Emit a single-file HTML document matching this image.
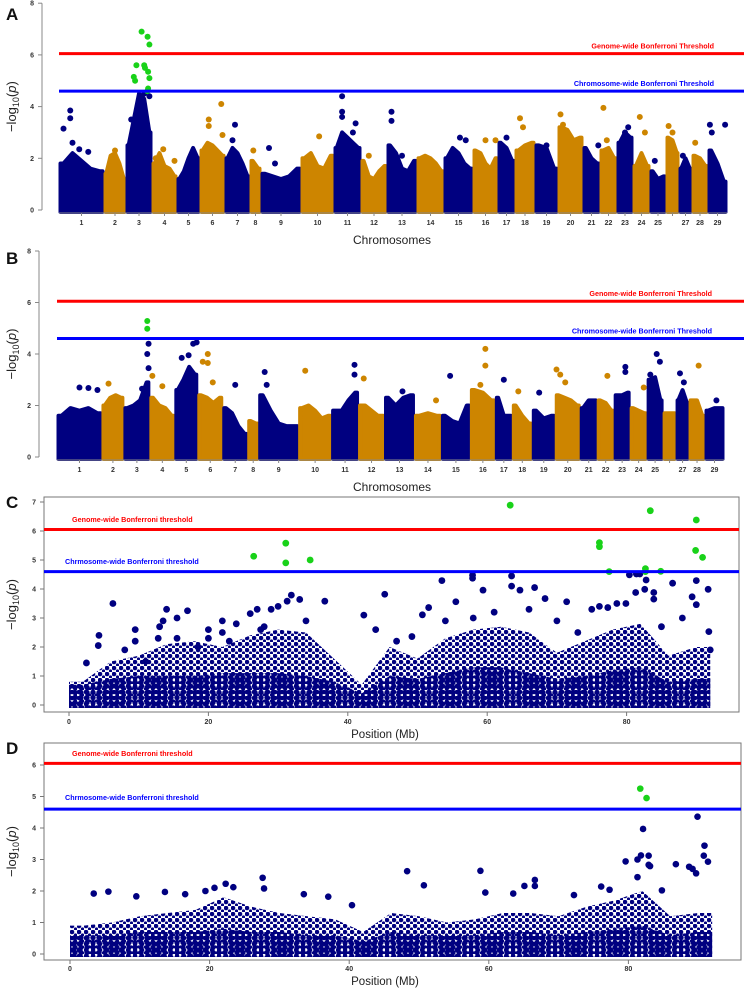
<!DOCTYPE html>
<html><head><meta charset="utf-8"><style>
html,body{margin:0;padding:0;background:#fff}
svg{display:block;font-family:"Liberation Sans",Arial,sans-serif}
</style></head><body>
<svg id="fig" width="744" height="992" viewBox="0 0 744 992" xmlns="http://www.w3.org/2000/svg">
<defs>
<pattern id="sparse" width="7" height="6" patternUnits="userSpaceOnUse"><circle cx="2" cy="2" r="2.3" fill="#000080"/><circle cx="5.5" cy="5" r="1.6" fill="#000080"/></pattern>
<pattern id="dense" width="6" height="5" patternUnits="userSpaceOnUse"><circle cx="3" cy="2.5" r="2.7" fill="#000080"/></pattern>
</defs>
<g id="root"></g>
</svg>
<script>
// ---------- DATA ----------
const chromNames = ["1","2","3","4","5","6","7","8","9","10","11","12","13","14","15","16","17","18","19","20","21","22","23","24","25","","27","28","29"];
const chromLen = [45,22,26,25,23,25,25,11,40,33,27,26,30,27,29,25,17,20,23,25,17,17,16,17,16,13,13,16,19];
const profileA = [[1.8,2.2,1.9,1.6,1.5],[1.4,2.1,2.2,1.8,1.2],[2.5,3.5,4.5,4.3,3.0],[1.8,2.2,1.7,1.6,1.3],[1.2,1.5,2.0,2.4,2.0],[2.3,2.6,2.5,2.3,2.1],[2.0,2.4,2.2,1.8,1.3],[1.9,1.6],[1.4,1.3,1.2,1.3,1.6],[2.0,2.2,1.7,1.6,2.1],[2.4,3.0,2.8,2.6,2.4],[1.9,1.3,1.2,1.5,1.7],[2.5,2.2,1.6,1.5,1.9],[2.0,2.1,2.0,1.8,1.5],[2.0,2.4,2.2,1.8,1.6],[2.3,2.2,1.8,1.6,2.0],[2.6,2.4,1.9],[2.3,2.5,2.6],[2.5,2.4,1.6],[3.2,3.1,2.7,2.8],[2.4,2.0,1.8],[2.3,2.4,2.0],[2.6,3.0,2.8],[1.7,2.2,1.7],[1.5,1.2,1.3],[2.8,2.7,2.2],[1.6,2.0,1.6],[2.1,2.0,1.7],[2.3,1.8,1.1]];
const peaksA = [[1,0.1,3.15],[1,0.25,3.85],[1,0.25,3.55],[1,0.3,2.6],[1,0.45,2.35],[1,0.65,2.25],[2,0.5,2.3],[3,0.2,3.5],[3,0.5,3.8],[3,0.7,4.5],[3,0.9,4.4],[4,0.15,2.0],[4,0.45,2.35],[4,0.9,1.9],[6,0.35,3.5],[6,0.35,3.25],[6,0.85,4.1],[6,0.9,2.9],[7,0.4,3.3],[7,0.3,2.7],[8,0.3,2.3],[9,0.2,2.4],[9,0.35,1.8],[10,0.55,2.85],[11,0.3,4.4],[11,0.3,3.8],[11,0.3,3.6],[11,0.8,3.35],[11,0.7,3.0],[12,0.3,2.1],[13,0.15,3.8],[13,0.15,3.45],[13,0.5,2.1],[15,0.55,2.8],[15,0.75,2.7],[16,0.5,2.7],[16,0.9,2.7],[17,0.5,2.8],[18,0.25,3.55],[18,0.4,3.2],[19,0.5,2.5],[20,0.1,3.7],[20,0.2,3.3],[21,0.9,2.5],[22,0.2,3.95],[22,0.4,2.7],[23,0.7,3.2],[23,0.5,3.0],[24,0.4,3.6],[24,0.7,3.0],[25,0.3,1.9],[26,0.2,3.25],[26,0.5,3.0],[27,0.3,2.1],[28,0.2,2.6],[29,0.1,3.3],[29,0.9,3.3],[29,0.2,3.0]];
const sigA = [[3,0.6,6.9],[3,0.83,6.7],[3,0.9,6.4],[3,0.4,5.6],[3,0.3,5.15],[3,0.35,5.0],[3,0.7,5.6],[3,0.73,5.5],[3,0.85,5.35],[3,0.9,5.1],[3,0.85,4.7],[3,0.82,4.6]];
const profileB = [[1.6,1.9,1.8,1.9,1.7],[2.0,2.3,2.4,2.3],[1.9,2.0,2.2,2.9],[2.3,2.0,1.9,1.6],[2.6,3.0,3.5,3.2],[2.4,2.3,2.1,2.3],[1.9,1.7,1.2,0.9],[1.4,1.3],[2.4,1.8,1.3,1.2,1.2],[1.9,2.0,1.8,1.5,1.6],[1.8,1.8,2.2,2.5],[2.0,1.6],[2.3,2.0,2.3,2.4],[1.6,1.7,1.6],[1.6,1.4,1.3,2.0],[2.6,2.5,2.2],[2.3,1.6,1.6],[2.0,1.6,1.3],[1.8,1.5,1.6],[2.4,2.3,2.2,2.0],[1.9,2.2,2.2],[2.2,2.1,1.8],[2.4,2.4,2.5],[1.9,1.8,1.7],[3.0,3.1,2.2],[1.7,1.7],[2.2,2.6,2.1],[2.2,2.2,1.6],[1.8,1.9,1.9]];
const peaksB = [[1,0.5,2.7],[1,0.7,2.68],[1,0.9,2.6],[2,0.3,2.85],[3,0.7,2.65],[3,0.95,4.4],[3,0.9,4.0],[3,0.95,3.45],[4,0.1,3.15],[4,0.5,2.75],[5,0.3,3.85],[5,0.6,3.95],[5,0.8,4.4],[5,0.95,4.45],[6,0.4,4.0],[6,0.4,3.65],[6,0.2,3.7],[6,0.6,2.9],[7,0.5,2.8],[9,0.15,3.3],[9,0.2,2.8],[10,0.2,3.35],[11,0.85,3.58],[11,0.85,3.2],[12,0.2,3.05],[13,0.6,2.55],[14,0.8,2.2],[15,0.3,3.15],[16,0.6,4.2],[16,0.6,3.55],[16,0.4,2.8],[17,0.5,3.0],[18,0.3,2.55],[19,0.3,2.5],[20,0.05,3.4],[20,0.2,3.2],[20,0.4,2.9],[22,0.6,3.15],[23,0.7,3.5],[23,0.7,3.3],[24,0.8,2.7],[25,0.6,4.0],[25,0.8,3.7],[25,0.2,3.2],[27,0.3,3.25],[27,0.6,2.9],[28,0.6,3.55],[29,0.6,2.2]];
const sigB = [[3,0.9,5.28],[3,0.9,4.98]];
// Panel C / D (single chromosome, Mb)
const binStartMb = [0,4,8,12,16,20,24,28,32,36,40,44,48,52,56,60,64,68,72,76,80,84,88];
const cloudTopC = [0.8,1.5,1.7,2.1,2.2,2.0,2.4,2.6,2.5,1.6,0.7,2.0,1.6,2.3,2.6,2.7,2.5,1.8,2.2,2.6,2.8,1.7,2.0];
const denseTopC = [0.7,0.9,1.0,1.0,1.0,1.1,1.1,1.1,1.0,0.8,0.4,1.0,0.9,1.1,1.3,1.3,1.1,0.9,1.0,1.2,1.3,0.8,0.9];
const cloudTopD = [0.9,1.0,1.2,1.3,1.4,1.8,1.5,1.3,1.2,1.1,0.7,1.3,1.2,1.0,1.1,1.3,1.3,1.2,1.5,1.7,2.0,1.2,1.3];
const denseTopD = [0.6,0.6,0.7,0.7,0.7,0.8,0.7,0.7,0.6,0.6,0.4,0.7,0.6,0.6,0.6,0.7,0.7,0.6,0.7,0.8,0.9,0.6,0.7];
const ptsC_mb = [6.3,4.3,4.2,9.5,9.5,13,13.5,14,15.5,17,15.5,12.8,20,20,22,22,23,26,27,28,29,27.5,30,31.3,31.9,33.1,36.7,45.3,53.5,57.9,57.9,63.5,63.5,59.4,64.7,66.8,68.3,80.4,81.4,81.9,82.8,82.6,81.3,83.9,83.9,86.6,90.0,91.7,89.4,90.0,91.8,71.4,76.1,78.6,79.9,77.3,51.6,55.5,50.7,42.3,49.2,18.5,24,34,44,47,54,58,61,66,70,73,75,85,88,92,2.5,11,8];
const ptsC_val = [3.5,2.4,2.05,2.6,2.2,2.7,2.9,3.3,3.0,3.25,2.3,2.3,2.6,2.3,2.9,2.5,2.2,3.15,3.3,2.7,3.3,2.6,3.4,3.58,3.79,3.64,3.58,3.82,4.29,4.48,4.37,4.45,4.1,3.96,3.96,4.05,3.67,4.49,4.52,4.52,4.31,3.99,3.88,3.88,3.65,4.2,4.29,3.99,3.73,3.46,2.53,3.56,3.4,3.5,3.5,3.36,3.36,3.56,3.11,3.1,2.36,2.0,2.8,2.9,2.6,2.2,2.9,3.0,3.2,3.3,2.9,2.5,3.3,2.7,3.0,1.9,1.45,1.5,1.9];
const sigC_mb = [26.5,31.1,31.1,34.6,63.3,83.4,76.1,76.1,77.5,82.7,82.7,84.9,90.0,89.9,90.9];
const sigC_val = [5.13,5.58,4.9,5.0,6.89,6.7,5.6,5.46,4.6,4.7,4.6,4.61,6.38,5.33,5.09];
const ptsD_mb = [3.4,5.5,9.5,13.6,16.5,19.4,20.7,22.3,23.4,27.6,27.8,33.5,37,40.4,48.3,50.7,58.8,59.5,63.5,65.1,66.6,66.6,72.2,76.1,77.3,79.6,81.3,81.8,82.1,81.3,83.1,82.9,82.9,86.8,88.7,89.9,90.9,90.8,91.4,89.7,89.2,84.8];
const ptsD_val = [1.92,1.98,1.83,1.97,1.9,2.0,2.1,2.23,2.12,2.42,2.08,1.9,1.82,1.55,2.63,2.18,2.64,1.95,1.92,2.16,2.35,2.16,1.87,2.14,2.04,2.94,3.0,3.13,3.97,2.44,2.79,3.12,2.83,2.85,2.77,4.36,3.44,3.12,2.93,2.56,2.7,2.02];
const sigD_mb = [81.7,82.6];
const sigD_val = [5.25,4.95];
const xTicksMb = [0,20,40,60,80];

// ---------- HELPERS ----------
const NS = "http://www.w3.org/2000/svg";
const root = document.getElementById('root');
const NAVY = "#000080", ORANGE = "#cd8500", GREEN = "#19d219";
function mk(tag, attrs, parent) {
  const e = document.createElementNS(NS, tag);
  for (const k in attrs) e.setAttribute(k, attrs[k]);
  (parent || root).appendChild(e);
  return e;
}
function txt(x, y, s, attrs, parent) {
  const t = mk('text', Object.assign({x: x, y: y}, attrs), parent);
  t.textContent = s;
  return t;
}
function ylabel(g, x, y) {
  const t = mk('text', {x: 0, y: 0, 'font-size': 13, fill: '#222', 'text-anchor': 'middle', transform: 'translate(' + x + ',' + y + ') rotate(-90)'}, g);
  
  
  const a = document.createElementNS(NS, 'tspan'); a.textContent = '\u2212log'; t.appendChild(a);
  const b = document.createElementNS(NS, 'tspan'); b.setAttribute('font-size', 9); b.setAttribute('dy', 3); b.textContent = '10'; t.appendChild(b);
  const c = document.createElementNS(NS, 'tspan'); c.setAttribute('dy', -3); c.textContent = '('; t.appendChild(c);
  const d = document.createElementNS(NS, 'tspan'); d.setAttribute('font-style', 'italic'); d.textContent = 'p'; t.appendChild(d);
  const e = document.createElementNS(NS, 'tspan'); e.textContent = ')'; t.appendChild(e);
}

function manhattan(cfg, profiles, peaks, sig) {
  const g = mk('g', {});
  
  
  const total = chromLen.reduce((a, b) => a + b, 0);
  const X = v => cfg.x0 + (cfg.x1 - cfg.x0) * v / total;
  const Y = v => cfg.y0 - v * cfg.unit;
  const starts = []; let acc = 0;
  chromLen.forEach(l => { starts.push(acc); acc += l; });
  profiles.forEach((p, i) => {
    const xa = X(starts[i]), xb = X(starts[i] + chromLen[i]);
    const col = i % 2 === 0 ? NAVY : ORANGE;
    let pts = [[xa + 1.5, cfg.y0 + 2], [xa + 1.5, Y(p[0])]];
    p.forEach((v, k) => pts.push([xa + (xb - xa) * (k + 0.5) / p.length, Y(v)]));
    pts.push([xb - 1.5, Y(p[p.length - 1])], [xb - 1.5, cfg.y0 + 2]);
    const poly = mk('polygon', {points: pts.map(q => q.join(',')).join(' '), fill: col, stroke: col, 'stroke-width': 4, 'stroke-linejoin': 'round'}, g);
    
    
  });
  peaks.forEach(pk => {
    const i = pk[0] - 1;
    const c = mk('circle', {cx: X(starts[i] + chromLen[i] * pk[1]), cy: Y(pk[2]), r: 3, fill: i % 2 === 0 ? NAVY : ORANGE}, g);
    
    
  });
  sig.forEach(pk => {
    const i = pk[0] - 1;
    const c = mk('circle', {cx: X(starts[i] + chromLen[i] * pk[1]), cy: Y(pk[2]), r: 3, fill: GREEN}, g);
    
    
  });
  const rl = mk('line', {x1: cfg.x0, x2: 744, y1: Y(6.05), y2: Y(6.05), stroke: '#ff0000', 'stroke-width': 3}, g);
  
  
  const bl = mk('line', {x1: cfg.x0, x2: 744, y1: Y(4.6), y2: Y(4.6), stroke: '#0000ff', 'stroke-width': 3}, g);
  
  
  const t1 = txt(cfg.labEnd, Y(6.05) - 5, 'Genome-wide Bonferroni Threshold', {'font-size': 7.2, 'font-weight': 'bold', fill: '#ff0000', 'text-anchor': 'end'}, g);
  
  
  const t2 = txt(cfg.labEnd, Y(4.6) - 5, 'Chromosome-wide Bonferroni Threshold', {'font-size': 7.2, 'font-weight': 'bold', fill: '#0000ff', 'text-anchor': 'end'}, g);
  
  
  mk('line', {x1: cfg.ax, x2: cfg.ax, y1: Y(8), y2: Y(0), stroke: '#888', 'stroke-width': 1}, g);
  [0, 2, 4, 6, 8].forEach(v => {
    mk('line', {x1: cfg.ax - 4, x2: cfg.ax, y1: Y(v), y2: Y(v), stroke: '#888'}, g);
    const tl = txt(cfg.ax - 8, Y(v) + 2.5, String(v), {'font-size': 7, 'font-weight': 'bold', fill: '#333', 'text-anchor': 'end'}, g);
    
    
  });
  mk('line', {x1: cfg.x0, x2: cfg.x1, y1: cfg.y0 + 3, y2: cfg.y0 + 3, stroke: '#888'}, g);
  chromNames.forEach((n, i) => {
    const cx = X(starts[i] + chromLen[i] / 2);
    mk('line', {x1: cx, x2: cx, y1: cfg.y0 + 3, y2: cfg.y0 + 6, stroke: '#888'}, g);
    if (n) {
      const tl = txt(cx, cfg.labY, n, {'font-size': 7, 'font-weight': 'bold', fill: '#333', 'text-anchor': 'middle'}, g);
      
      
    }
  });
  const xt = txt(392, cfg.labY + 19, 'Chromosomes', {'font-size': 12, fill: '#222', 'text-anchor': 'middle'}, g);
  
  
  ylabel(g, 16, cfg.y0 - 4 * cfg.unit);
  const L = txt(6, cfg.letterY, cfg.letter, {'font-size': 17, 'font-weight': 'bold', fill: '#111'}, g);
  
  
}

function region(cfg, cloudTop, denseTop, pmb, pval, smb, sval) {
  const g = mk('g', {});
  
  
  const X = mb => cfg.xz + mb * cfg.pxmb;
  const Y = v => cfg.y0 - v * cfg.unit;
  const box = mk('rect', {x: cfg.bx0, y: cfg.by0, width: cfg.bx1 - cfg.bx0, height: cfg.by1 - cfg.by0, fill: 'none', stroke: '#777', 'stroke-width': 1}, g);
  
  
  function area(arr, fill, nm) {
    let pts = [[X(0), cfg.y0 + 3], [X(0), Y(arr[0])]];
    arr.forEach((v, k) => { pts.push([X(binStartMb[k] + 2), Y(v)]); });
    pts.push([X(92), Y(arr[arr.length - 1])]);
    pts.push([X(92), cfg.y0 + 3]);
    const p = mk('polygon', {points: pts.map(q => q.join(',')).join(' '), fill: fill}, g);
    
    
  }
  area(cloudTop, 'url(#sparse)', 'snp-cloud');
  area(denseTop, 'url(#dense)', 'snp-cloud-dense');
  pmb.forEach((m, k) => {
    const c = mk('circle', {cx: X(m), cy: Y(pval[k]), r: cfg.r, fill: NAVY}, g);
    
    
  });
  smb.forEach((m, k) => {
    const c = mk('circle', {cx: X(m), cy: Y(sval[k]), r: cfg.r, fill: GREEN}, g);
    
    
  });
  const rl = mk('line', {x1: cfg.bx0, x2: cfg.bx1, y1: Y(6.05), y2: Y(6.05), stroke: '#ff0000', 'stroke-width': 3}, g);
  
  
  const bl = mk('line', {x1: cfg.bx0, x2: cfg.bx1, y1: Y(4.6), y2: Y(4.6), stroke: '#0000ff', 'stroke-width': 3}, g);
  
  
  const t1 = txt(72, cfg.gY, 'Genome-wide Bonferroni threshold', {'font-size': 7.2, 'font-weight': 'bold', fill: '#ff0000'}, g);
  
  
  const t2 = txt(65, cfg.cY, 'Chrmosome-wide Bonferroni threshold', {'font-size': 7.2, 'font-weight': 'bold', fill: '#0000ff'}, g);
  
  
  for (let v = 0; v <= cfg.ymax; v++) {
    mk('line', {x1: cfg.bx0 - 4, x2: cfg.bx0, y1: Y(v), y2: Y(v), stroke: '#777'}, g);
    const tl = txt(cfg.bx0 - 8, Y(v) + 2.5, String(v), {'font-size': 7, 'font-weight': 'bold', fill: '#333', 'text-anchor': 'end'}, g);
    
    
  }
  xTicksMb.forEach(m => {
    mk('line', {x1: X(m), x2: X(m), y1: cfg.by1, y2: cfg.by1 + 4, stroke: '#777'}, g);
    const tl = txt(X(m), cfg.tickY, String(m), {'font-size': 7, 'font-weight': 'bold', fill: '#333', 'text-anchor': 'middle'}, g);
    
    
  });
  const xt = txt(385, cfg.tickY + 14, 'Position (Mb)', {'font-size': 11.5, fill: '#222', 'text-anchor': 'middle'}, g);
  
  
  ylabel(g, 16, (cfg.by0 + cfg.by1) / 2);
  const L = txt(6, cfg.letterY, cfg.letter, {'font-size': 17, 'font-weight': 'bold', fill: '#111'}, g);
  
  
}

manhattan({name: 'panel-a', letter: 'A', letterY: 20, x0: 59, x1: 727, ax: 42, y0: 210, unit: 25.85, labEnd: 714, labY: 225}, profileA, peaksA, sigA);
manhattan({name: 'panel-b', letter: 'B', letterY: 264, x0: 57, x1: 724, ax: 39, y0: 457, unit: 25.75, labEnd: 712, labY: 472}, profileB, peaksB, sigB);
region({name: 'panel-c', letter: 'C', letterY: 508, bx0: 44, bx1: 739, by0: 497, by1: 712, xz: 69, pxmb: 6.97, y0: 705, unit: 29, ymax: 7, r: 3.4, gY: 522, cY: 564, tickY: 724}, cloudTopC, denseTopC, ptsC_mb, ptsC_val, sigC_mb, sigC_val);
region({name: 'panel-d', letter: 'D', letterY: 754, bx0: 44, bx1: 741, by0: 743, by1: 960, xz: 70, pxmb: 6.98, y0: 954, unit: 31.5, ymax: 6, r: 3.3, gY: 756, cY: 800, tickY: 971}, cloudTopD, denseTopD, ptsD_mb, ptsD_val, sigD_mb, sigD_val);
</script>
</body></html>
